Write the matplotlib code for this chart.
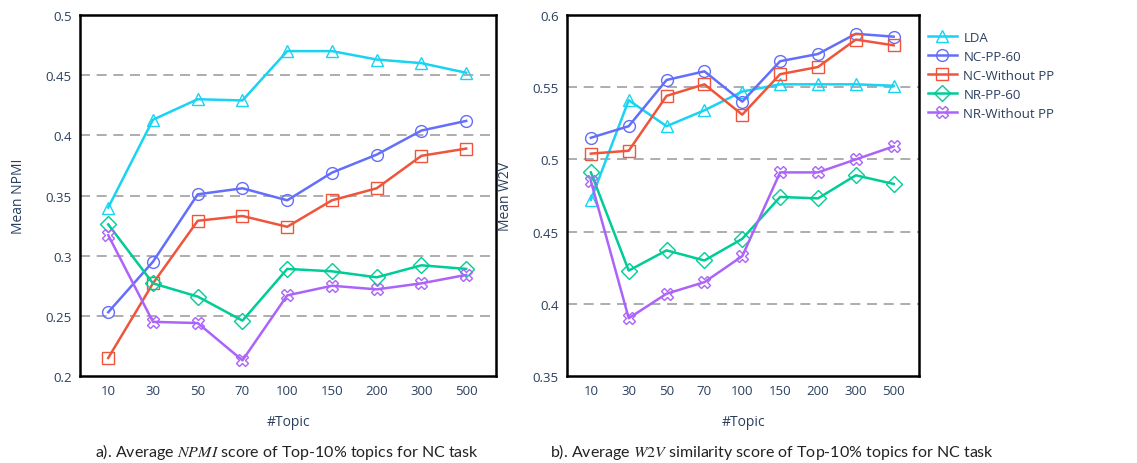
import matplotlib
matplotlib.use("Agg")
import matplotlib.pyplot as plt

topics = ["10", "30", "50", "70", "100", "150", "200", "300", "500"]
series_names = ["LDA", "NC-PP-60", "NC-Without PP", "NR-PP-60", "NR-Without PP"]

npmi_lda = [0.340, 0.413, 0.430, 0.429, 0.470, 0.470, 0.463, 0.460, 0.452]
npmi_nc_pp = [0.253, 0.295, 0.351, 0.356, 0.346, 0.369, 0.384, 0.404, 0.412]
npmi_nc_wo = [0.215, 0.277, 0.329, 0.333, 0.324, 0.346, 0.356, 0.383, 0.389]
npmi_nr_pp = [0.326, 0.277, 0.266, 0.246, 0.289, 0.287, 0.282, 0.292, 0.289]
npmi_nr_wo = [0.317, 0.245, 0.244, 0.213, 0.267, 0.275, 0.272, 0.277, 0.284]

w2v_lda = [0.472, 0.541, 0.523, 0.534, 0.547, 0.552, 0.552, 0.552, 0.551]
w2v_nc_pp = [0.515, 0.523, 0.555, 0.561, 0.540, 0.568, 0.573, 0.587, 0.585]
w2v_nc_wo = [0.504, 0.506, 0.544, 0.552, 0.531, 0.559, 0.564, 0.583, 0.579]
w2v_nr_pp = [0.491, 0.423, 0.437, 0.430, 0.445, 0.474, 0.473, 0.489, 0.483]
w2v_nr_wo = [0.485, 0.390, 0.407, 0.415, 0.433, 0.491, 0.491, 0.500, 0.509]

colors = ["#19d3f3", "#636efa", "#EF553B", "#00cc96", "#ab63fa"]
markers = ["^", "o", "s", "D", "X"]
msizes = [9, 8.5, 8.5, 8, 9]

tick_color = "#2a3f5f"
plt.rcParams["font.family"] = ["Open Sans", "DejaVu Sans"]
plt.rcParams["mathtext.fontset"] = "stix"

fig = plt.figure(figsize=(11.37, 4.64), dpi=100)
ax1 = fig.add_axes([0.0704, 0.1875, 0.366, 0.778])
ax2 = fig.add_axes([0.4987, 0.1875, 0.3096, 0.778])

def draw(ax, data, ylim, yticks, ylabel):
    x = list(range(len(topics)))
    for t in yticks[1:-1]:
        ax.axhline(t, color="#a0a0a0", lw=1.2, ls=(0, (6, 4)), zorder=0)
    for name, vals, c, m, ms in zip(series_names, data, colors, markers, msizes):
        ax.plot(x, vals, color=c, lw=1.8, marker=m, markersize=ms,
                markerfacecolor="none", markeredgecolor=c, markeredgewidth=1.0,
                label=name, zorder=3)
    ax.set_xlim(-0.63, 8.67)
    ax.set_ylim(*ylim)
    ax.set_xticks(x)
    ax.set_xticklabels(topics)
    ax.set_yticks(yticks)
    ax.set_yticklabels([("%g" % t) for t in yticks])
    ax.tick_params(axis="both", colors=tick_color, labelsize=9.5, length=0, pad=6)
    for s in ax.spines.values():
        s.set_color("black")
        s.set_linewidth(1.8)
    ax.set_xlabel("#Topic", color=tick_color, fontsize=10, labelpad=12)
    ax.set_ylabel(ylabel, color=tick_color, fontsize=10, labelpad=14)

draw(ax1, [npmi_lda, npmi_nc_pp, npmi_nc_wo, npmi_nr_pp, npmi_nr_wo],
     (0.2, 0.5), [0.2, 0.25, 0.3, 0.35, 0.4, 0.45, 0.5], "Mean NPMI")
draw(ax2, [w2v_lda, w2v_nc_pp, w2v_nc_wo, w2v_nr_pp, w2v_nr_wo],
     (0.35, 0.6), [0.35, 0.4, 0.45, 0.5, 0.55, 0.6], "Mean W2V")

leg = ax2.legend(loc="upper left", bbox_to_anchor=(1.01, 0.97), frameon=False,
                 fontsize=9.5, handlelength=2.2, labelspacing=0.45,
                 handletextpad=0.5, borderaxespad=0)
for t in leg.get_texts():
    t.set_color(tick_color)

cap_font = ["Lato", "DejaVu Sans"]
fig.text(0.252, 0.025, r"a). Average $NPMI$ score of Top-10% topics for NC task",
         ha="center", va="center", fontsize=11.5, family=cap_font, color="#222222")
fig.text(0.679, 0.025, r"b). Average $W2V$ similarity score of Top-10% topics for NC task",
         ha="center", va="center", fontsize=11.5, family=cap_font, color="#222222")

fig.savefig("out.png", dpi=100)
